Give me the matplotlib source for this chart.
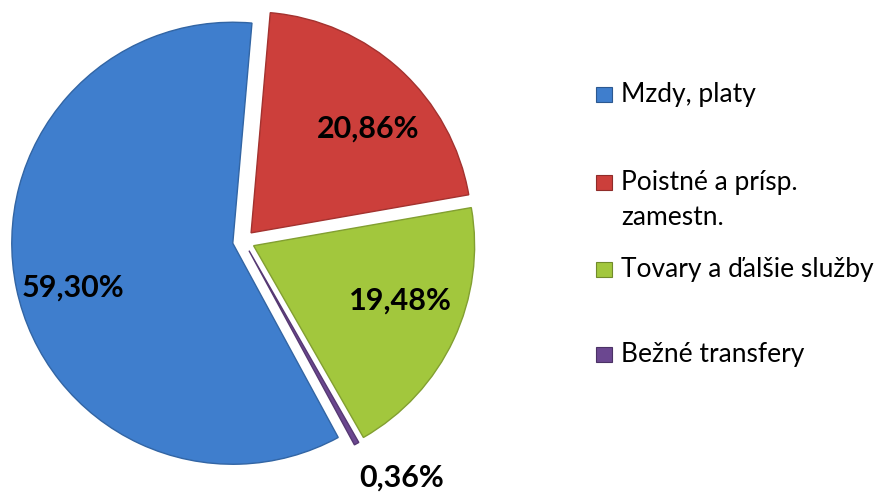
import numpy as np
import matplotlib.pyplot as plt
from matplotlib.patches import Rectangle
from matplotlib.colors import to_rgb

# data
categories = ['Mzdy, platy', 'Poistné a prísp.\nzamestn.', 'Tovary a ďalšie služby', 'Bežné transfery']
shares = [59.30, 20.86, 19.48, 0.36]
pct_labels = ['59,30%', '20,86%', '19,48%', '0,36%']
colors = ['#3f7ecd', '#cc3f3b', '#a2c73d', '#6b4790']

W, H = 882, 493
fig = plt.figure(figsize=(W / 100, H / 100), dpi=100)

# pie placed in pixel terms: centre and radius
R = 221
cx, cy = 243.6, H - 241
half = 240
ax = fig.add_axes([(cx - half) / W, (cy - half) / H, 2 * half / W, 2 * half / H])
wedges, _ = ax.pie(shares, colors=colors, startangle=-61.5, counterclock=False,
                   explode=[0.05] * len(shares), radius=1,
                   wedgeprops=dict(linewidth=0))
for w, c in zip(wedges, colors):
    w.set_edgecolor(tuple(v * 0.8 for v in to_rgb(c)))
    w.set_linewidth(1.0)
lim = half / R
ax.set_xlim(-lim, lim)
ax.set_ylim(-lim, lim)
ax.set_aspect('equal')
ax.axis('off')

# data labels (distance from wedge tip, angular nudge in degrees)
dists = [0.75, 0.71, 0.71, 1.24]
nudges = [3.9, -5.6, 4.5, 4.8]
for w, lab, d, n in zip(wedges, pct_labels, dists, nudges):
    mid = np.deg2rad((w.theta1 + w.theta2) / 2)
    off = mid + np.deg2rad(n)
    x0, y0 = 0.05 * np.cos(mid), 0.05 * np.sin(mid)
    ax.text(x0 + d * np.cos(off), y0 + d * np.sin(off), lab,
            ha='center', va='center', fontsize=22, fontweight='bold',
            family='Lato', color='black')

# legend drawn by hand (uneven row spacing as in the original)
def fx(x):
    return x / W

def fy(y):
    return 1 - y / H

baselines = [102, 190, 277, 362]
for lab, c, b in zip(categories, colors, baselines):
    fig.patches.append(Rectangle((fx(596), fy(b)), 16 / W, 15 / H,
                                 transform=fig.transFigure, facecolor=c,
                                 edgecolor=tuple(v * 0.7 for v in to_rgb(c)),
                                 linewidth=0.8))
    for k, line in enumerate(lab.split('\n')):
        fig.text(fx(621), fy(b + 35 * k), line, ha='left', va='baseline',
                 fontsize=19, family='Lato', color='black')

fig.savefig('out.png', dpi=100)
